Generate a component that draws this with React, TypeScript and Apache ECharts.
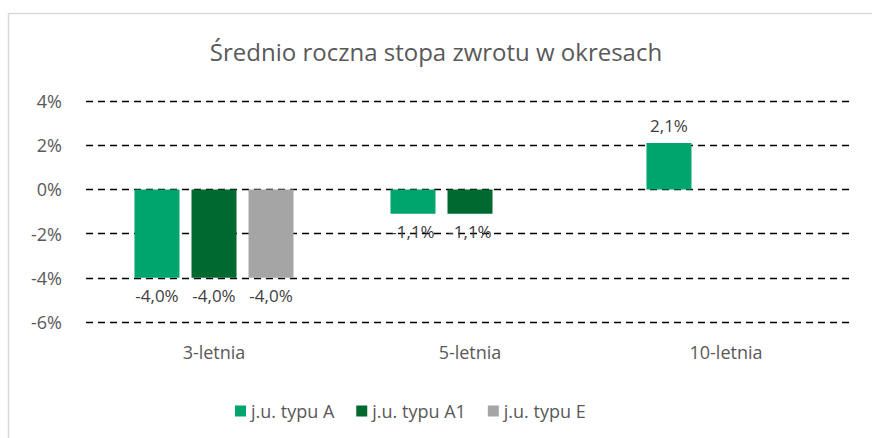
import React, { useEffect, useRef } from "react";
import * as echarts from "echarts";

const titleText = "Średnio roczna stopa zwrotu w okresach";
const categories = ["3-letnia", "5-letnia", "10-letnia"];
const seriesNames = ["j.u. typu A", "j.u. typu A1", "j.u. typu E"];
const valuesA = [-4.0, -1.1, 2.1];
const valuesA1 = [-4.0, -1.1, null];
const valuesE = [-4.0, null, null];
const colors = ["#00A56E", "#00692F", "#A5A5A5"];
const yTicks = { min: -6, max: 4, interval: 2 };

const FONT = "Open Sans";
const TXT = "#595959";

function fmt(v: number) {
  return v.toFixed(1).replace(".", ",") + "%";
}

function mkData(vals: (number | null)[]) {
  return vals.map((v) =>
    v === null
      ? null
      : {
          value: v,
          label: { position: v < 0 ? "bottom" : "top" },
        }
  );
}

export default function App() {
  const ref = useRef<HTMLDivElement>(null);
  useEffect(() => {
    if (!ref.current) return;
    const chart = echarts.init(ref.current, null, { renderer: "svg" });
    const allVals = [valuesA, valuesA1, valuesE];
    chart.setOption({
      animation: false,
      backgroundColor: "#fff",
      title: {
        text: titleText,
        left: "center",
        top: 34,
        textStyle: { fontFamily: FONT, fontSize: 24, fontWeight: "normal", color: TXT },
      },
      graphic: [
        {
          type: "rect",
          shape: { x: 8.5, y: 13.5, width: 1000, height: 1000 },
          style: { fill: "none", stroke: "#D9D9D9", lineWidth: 1.5 },
          silent: true,
        },
      ],
      legend: {
        left: 230,
        top: 397,
        itemWidth: 11,
        itemHeight: 11,
        itemGap: 22,
        icon: "rect",
        textStyle: { fontFamily: FONT, fontSize: 18, color: TXT },
        data: seriesNames,
      },
      grid: { left: 86, right: 18, top: 101, bottom: 116, containLabel: false },
      xAxis: {
        type: "category",
        data: categories,
        axisLine: { show: false, onZero: false },
        axisTick: { show: false },
        axisLabel: { margin: 21, fontFamily: FONT, fontSize: 18, color: TXT },
      },
      yAxis: {
        type: "value",
        min: yTicks.min,
        max: yTicks.max,
        interval: yTicks.interval,
        axisLine: { show: false },
        axisTick: { show: false },
        axisLabel: {
          margin: 24,
          fontFamily: FONT,
          fontSize: 18,
          color: TXT,
          formatter: (v: number) => `${v}%`,
        },
        splitLine: { lineStyle: { color: "#000", type: [7, 5], width: 1.3 } },
      },
      series: seriesNames.map((name, i) => ({
        name,
        type: "bar",
        data: mkData(allVals[i]),
        barWidth: 45,
        barGap: "26.7%",
        itemStyle: { color: colors[i] },
        label: {
          show: true,
          distance: 9,
          fontFamily: FONT,
          fontSize: 17,
          color: "#404040",
          formatter: (p: any) => fmt(p.value),
        },
      })),
    });
    return () => chart.dispose();
  }, []);
  return (
    <div
      ref={ref}
      style={{ position: "fixed", left: 0, top: 0, width: 872, height: 438 }}
    />
  );
}
